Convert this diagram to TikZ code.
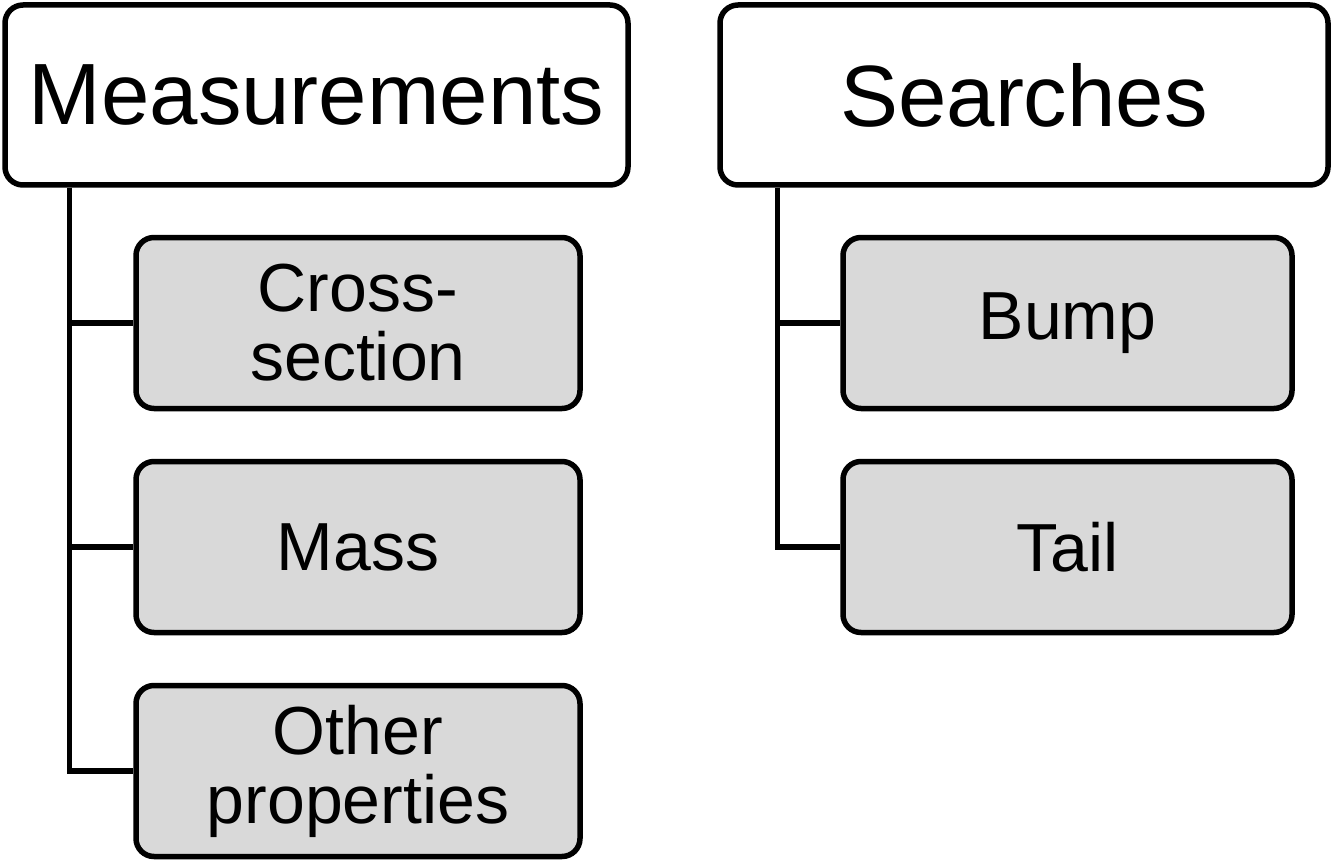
\documentclass[tikz,border=0pt]{standalone}
\usepackage{fontspec}
\setmainfont{Liberation Sans}
\usetikzlibrary{calc}
\definecolor{boxgray}{HTML}{D9D9D9}

\begin{document}
\begin{tikzpicture}[x=1pt, y=-1pt, line width=5.5pt,
    topbox/.style={draw, rounded corners=18pt, fill=white, font=\fontsize{87}{95}\selectfont,
        minimum height=180pt, inner sep=0pt},
    subbox/.style={draw, rounded corners=18pt, fill=boxgray, font=\fontsize{68}{69}\selectfont,
        minimum height=171pt, align=center, inner sep=0pt}]
    \useasboundingbox (0,0) rectangle (1333,861);
    \node [topbox, minimum width=623pt] (meas) at (316.5,95) {Measurements};
    \node [topbox, minimum width=608pt] (srch) at (1024,95) {Searches};
    \node [subbox, minimum width=444pt] (xsec) at (358,323) {Cross-\\section};
    \node [subbox, minimum width=444pt] (mass) at (358,547) {Mass};
    \node [subbox, minimum width=444pt] (other) at (358,771) {Other\\properties};
    \node [subbox, minimum width=449pt] (bump) at (1067.5,323) {Bump};
    \node [subbox, minimum width=449pt] (tail) at (1067.5,547) {Tail};
    \coordinate (mroot) at ([xshift=67pt]meas.south west);
    \coordinate (sroot) at ([xshift=60pt]srch.south west);
    \draw (mroot) |- (xsec.west);
    \draw (mroot) |- (mass.west);
    \draw (mroot) |- (other.west);
    \draw (sroot) |- (bump.west);
    \draw (sroot) |- (tail.west);
\end{tikzpicture}
\end{document}
